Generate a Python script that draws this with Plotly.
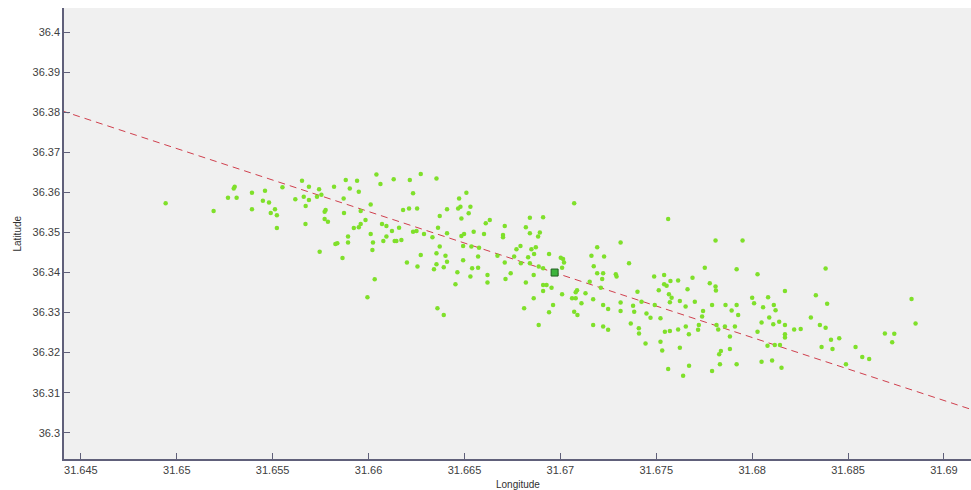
import plotly.graph_objects as go

# Scatter sample positions (longitude, latitude)
lon = [
    31.64942, 31.65192, 31.65297, 31.65302, 31.65267, 31.65312, 31.65392, 31.65392, 31.65460, 31.65449,
    31.65481, 31.65512, 31.65490, 31.65522, 31.65522, 31.65551,
    31.65653, 31.65689, 31.65742, 31.65618, 31.65662, 31.65689, 31.65672, 31.65731, 31.65754, 31.65776,
    31.65771, 31.65771, 31.65788, 31.65671, 31.65820, 31.65881, 31.65940, 31.65902, 31.65949, 31.65870,
    31.65872, 31.66041, 31.66062, 31.66131, 31.66215, 31.66232, 31.66011, 31.65959, 31.65984, 31.65959,
    31.65949, 31.65923, 31.65893, 31.65893, 31.65837, 31.65827, 31.65745, 31.65864, 31.66011, 31.66023,
    31.66020, 31.66070, 31.66093, 31.66122, 31.66093, 31.66077, 31.66136, 31.66145, 31.66171, 31.66159,
    31.66180, 31.66211, 31.66232, 31.66200, 31.66032, 31.65994,
    31.66272, 31.66354, 31.66510, 31.66472, 31.66531, 31.66479, 31.66467, 31.66253, 31.66409, 31.66522,
    31.66371, 31.66484, 31.66632, 31.66611, 31.66710, 31.66841, 31.66910, 31.66820, 31.66841, 31.66884,
    31.66893, 31.66701, 31.66701, 31.66602, 31.66548, 31.66498, 31.66484, 31.66409, 31.66362, 31.66250,
    31.66289, 31.66333, 31.66371, 31.66493, 31.66536, 31.66576, 31.66672, 31.66771, 31.66792, 31.66849,
    31.66863, 31.66872, 31.66832, 31.66759, 31.66272, 31.66354, 31.66401, 31.66409, 31.66354, 31.66255,
    31.66341, 31.66392, 31.66493, 31.66571, 31.66710, 31.66794, 31.66841, 31.66887, 31.66910, 31.66540,
    31.66571, 31.66463, 31.66531, 31.66620, 31.66741, 31.66714, 31.66620, 31.66453, 31.66820, 31.66861,
    31.66910, 31.66910, 31.66861, 31.66811, 31.66887, 31.66359, 31.66392,
    31.67072, 31.67562, 31.67192, 31.67314, 31.66941, 31.67002, 31.67014, 31.67019, 31.67009, 31.67162,
    31.67228, 31.67174, 31.67358, 31.67192, 31.67223, 31.67218, 31.67289, 31.67293, 31.67153, 31.67211,
    31.66928, 31.66954, 31.67009, 31.67087, 31.67080, 31.67061, 31.67080, 31.67110, 31.67131, 31.67171,
    31.67223, 31.67249, 31.67314, 31.67314, 31.66962, 31.66941, 31.67072, 31.67089, 31.67171, 31.67223,
    31.67249, 31.67402, 31.67379, 31.67385, 31.67423, 31.67449, 31.67470, 31.67492, 31.67522, 31.67367,
    31.67409, 31.67410, 31.67444, 31.67489, 31.67541, 31.67541, 31.67554, 31.67574, 31.67513, 31.67566,
    31.67580, 31.67571, 31.67545, 31.67571, 31.67522, 31.67531, 31.67562,
    31.67809, 31.67950, 31.67753, 31.67919, 31.68028, 31.67614, 31.67689, 31.67663, 31.67779, 31.67809,
    31.67811, 31.67623, 31.67653, 31.67701, 31.67744, 31.67739, 31.67791, 31.67861, 31.67919, 31.67893,
    31.67927, 31.68000, 31.68010, 31.68057, 31.68083, 31.68113, 31.68122, 31.68171, 31.68089, 31.68110,
    31.68141, 31.68171, 31.68171, 31.68171, 31.68219, 31.68253, 31.68049, 31.68028, 31.67910, 31.67884,
    31.67858, 31.67814, 31.67823, 31.67614, 31.67654, 31.67670, 31.67718, 31.67722, 31.67623, 31.67837,
    31.67828, 31.67884, 31.68080, 31.68118, 31.68145, 31.67671, 31.67640, 31.67791, 31.67832, 31.67919,
    31.68049, 31.68104, 31.68153,
    31.68383, 31.68332, 31.68391, 31.68831, 31.68852, 31.68306, 31.68353, 31.68383, 31.68411, 31.68454,
    31.68362, 31.68419, 31.68539, 31.68692, 31.68741, 31.68730, 31.68574, 31.68610, 31.68489,
]
lat = [
    36.3573, 36.3554, 36.3610, 36.3614, 36.3587, 36.3587, 36.3599, 36.3558, 36.3604, 36.3579,
    36.3575, 36.3558, 36.3549, 36.3543, 36.3511, 36.3613,
    36.3629, 36.3614, 36.3608, 36.3583, 36.3589, 36.3581, 36.3566, 36.3589, 36.3594, 36.3556,
    36.3552, 36.3534, 36.3527, 36.3521, 36.3614, 36.3631, 36.3629, 36.3610, 36.3602, 36.3585,
    36.3549, 36.3645, 36.3621, 36.3633, 36.3631, 36.3598, 36.3570, 36.3554, 36.3531, 36.3521,
    36.3513, 36.3511, 36.3490, 36.3475, 36.3473, 36.3471, 36.3452, 36.3436, 36.3496, 36.3475,
    36.3456, 36.3521, 36.3516, 36.3504, 36.3490, 36.3479, 36.3479, 36.3479, 36.3481, 36.3512,
    36.3556, 36.3560, 36.3502, 36.3425, 36.3383, 36.3338,
    36.3646, 36.3635, 36.3599, 36.3585, 36.3564, 36.3564, 36.3560, 36.3560, 36.3558, 36.3548,
    36.3541, 36.3535, 36.3531, 36.3523, 36.3516, 36.3537, 36.3538, 36.3513, 36.3498, 36.3490,
    36.3500, 36.3494, 36.3488, 36.3496, 36.3502, 36.3496, 36.3491, 36.3498, 36.3512, 36.3504,
    36.3496, 36.3488, 36.3465, 36.3466, 36.3465, 36.3462, 36.3442, 36.3458, 36.3466, 36.3458,
    36.3446, 36.3463, 36.3438, 36.3440, 36.3444, 36.3448, 36.3442, 36.3427, 36.3421, 36.3415,
    36.3408, 36.3413, 36.3431, 36.3440, 36.3425, 36.3423, 36.3423, 36.3415, 36.3411, 36.3411,
    36.3412, 36.3401, 36.3390, 36.3394, 36.3398, 36.3384, 36.3375, 36.3371, 36.3375, 36.3394,
    36.3369, 36.3354, 36.3336, 36.3311, 36.3269, 36.3311, 36.3294,
    36.3573, 36.3534, 36.3463, 36.3475, 36.3446, 36.3437, 36.3434, 36.3425, 36.3412, 36.3442,
    36.3440, 36.3416, 36.3423, 36.3398, 36.3398, 36.3384, 36.3396, 36.3390, 36.3377, 36.3362,
    36.3369, 36.3362, 36.3346, 36.3356, 36.3351, 36.3336, 36.3336, 36.3323, 36.3348, 36.3333,
    36.3319, 36.3309, 36.3325, 36.3304, 36.3319, 36.3301, 36.3302, 36.3294, 36.3269, 36.3265,
    36.3257, 36.3352, 36.3317, 36.3302, 36.3327, 36.3298, 36.3287, 36.3319, 36.3286, 36.3273,
    36.3261, 36.3248, 36.3223, 36.3390, 36.3394, 36.3371, 36.3367, 36.3379, 36.3356, 36.3346,
    36.3337, 36.3326, 36.3252, 36.3254, 36.3227, 36.3205, 36.3159,
    36.3480, 36.3480, 36.3412, 36.3408, 36.3396, 36.3380, 36.3387, 36.3358, 36.3373, 36.3365,
    36.3355, 36.3329, 36.3315, 36.3327, 36.3304, 36.3290, 36.3319, 36.3319, 36.3319, 36.3305,
    36.3294, 36.3337, 36.3323, 36.3313, 36.3338, 36.3319, 36.3306, 36.3354, 36.3288, 36.3271,
    36.3277, 36.3269, 36.3246, 36.3238, 36.3258, 36.3259, 36.3275, 36.3252, 36.3265, 36.3240,
    36.3265, 36.3269, 36.3258, 36.3258, 36.3265, 36.3246, 36.3257, 36.3269, 36.3212, 36.3204,
    36.3196, 36.3209, 36.3217, 36.3219, 36.3219, 36.3167, 36.3142, 36.3154, 36.3171, 36.3171,
    36.3177, 36.3180, 36.3162,
    36.3410, 36.3343, 36.3322, 36.3334, 36.3273, 36.3288, 36.3269, 36.3262, 36.3232, 36.3236,
    36.3214, 36.3209, 36.3214, 36.3248, 36.3247, 36.3226, 36.3189, 36.3184, 36.3171,
]

# Centre point (green square)
center_lon = [31.6697]
center_lat = [36.3400]

# Fitted direction line endpoints
fit_lon = [31.6440, 31.6920]
fit_lat = [36.3804, 36.3049]

x_ticks = [31.645, 31.65, 31.655, 31.66, 31.665, 31.67, 31.675, 31.68, 31.685, 31.69]
x_tick_text = ["31.645", "31.65", "31.655", "31.66", "31.665", "31.67", "31.675", "31.68", "31.685", "31.69"]
y_ticks = [36.30, 36.31, 36.32, 36.33, 36.34, 36.35, 36.36, 36.37, 36.38, 36.39, 36.40]
y_tick_text = ["36.3", "36.31", "36.32", "36.33", "36.34", "36.35", "36.36", "36.37", "36.38", "36.39", "36.4"]

fig = go.Figure()
fig.add_trace(go.Scatter(
    x=fit_lon, y=fit_lat, mode="lines",
    line=dict(color="#d0404e", width=1, dash="7px,5px"),
    hoverinfo="skip", showlegend=False,
))
fig.add_trace(go.Scatter(
    x=lon, y=lat, mode="markers",
    marker=dict(color="#7fe02a", size=4.5, symbol="circle",
                line=dict(width=0)),
    showlegend=False,
))
fig.add_trace(go.Scatter(
    x=center_lon, y=center_lat, mode="markers",
    marker=dict(color="#3cb43c", size=7, symbol="square",
                line=dict(color="#1f5f1f", width=1)),
    showlegend=False,
))

axis_col = "#60607a"
fig.update_layout(
    width=971, height=490,
    margin=dict(l=64, r=0, t=8, b=31),
    paper_bgcolor="white",
    plot_bgcolor="#f0f0f0",
    font=dict(family="Liberation Sans, Arial, sans-serif", size=11, color="#404040"),
    xaxis=dict(
        range=[31.64412, 31.69141], tickvals=x_ticks, ticktext=x_tick_text,
        ticks="inside", ticklen=6, tickcolor=axis_col, tickwidth=1,
        showline=True, linecolor=axis_col, linewidth=1.5, mirror=False,
        showgrid=False, zeroline=False,
        tickfont=dict(size=11, color="#404040"),
    ),
    yaxis=dict(
        range=[36.29343, 36.40607], tickvals=y_ticks, ticktext=y_tick_text,
        ticks="inside", ticklen=6, tickcolor=axis_col, tickwidth=1,
        showline=True, linecolor=axis_col, linewidth=1.5, mirror=False,
        showgrid=False, zeroline=False,
        tickfont=dict(size=11, color="#404040"),
    ),
    annotations=[
        dict(text="Longitude", x=0.5, y=0, xref="paper", yref="paper",
             xanchor="center", yanchor="middle", yshift=-25, showarrow=False,
             font=dict(size=10, color="#303030")),
        dict(text="Latitude", x=0, y=0.5, xref="paper", yref="paper",
             xanchor="center", yanchor="middle", xshift=-47, textangle=-90,
             showarrow=False, font=dict(size=10, color="#303030")),
    ],
)

fig.write_html("out.html")
